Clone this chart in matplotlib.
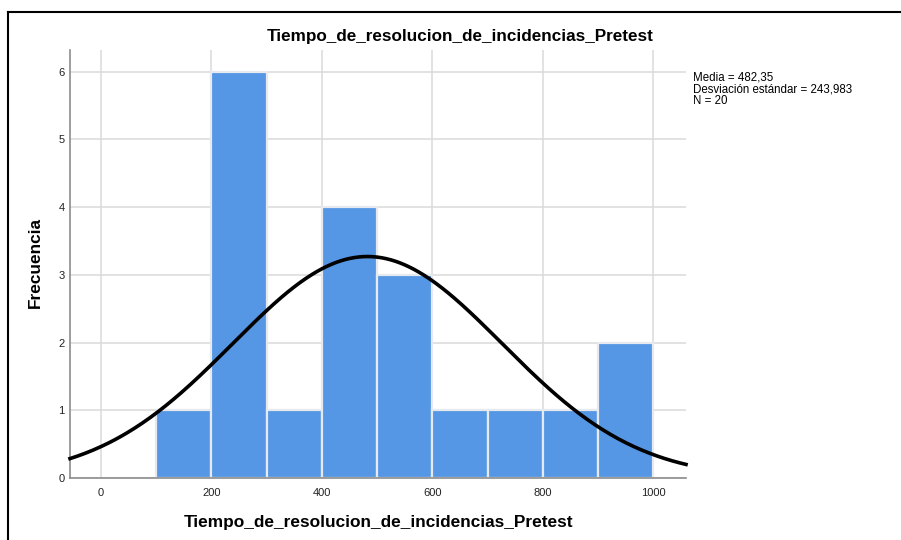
import numpy as np
from matplotlib import pyplot as plt
from matplotlib.lines import Line2D

# Histogram bins (left edges) and frequencies
bin_edges = [100, 200, 300, 400, 500, 600, 700, 800, 900, 1000]
counts = [1, 6, 1, 4, 3, 1, 1, 1, 2]
media = 482.35
desv = 243.983
n = 20
x_ticks = [0, 200, 400, 600, 800, 1000]
y_ticks = [0, 1, 2, 3, 4, 5, 6]

plt.rcParams['font.family'] = ['Liberation Sans', 'DejaVu Sans']

fig = plt.figure(figsize=(9.01, 5.40), dpi=100)
ax = fig.add_axes([70 / 901, 1 - 478 / 540, 616 / 901, 428 / 540])

# Bars
widths = np.diff(bin_edges)
ax.bar(bin_edges[:-1], counts, width=widths, align='edge',
       color='#5596e5', edgecolor='#e6e9ee', linewidth=1.6, zorder=2)

# Normal curve scaled to the histogram
xlim = (-56, 1059)
xs = np.linspace(xlim[0], xlim[1], 400)
bw = widths[0]
ys = n * bw * np.exp(-0.5 * ((xs - media) / desv) ** 2) / (desv * np.sqrt(2 * np.pi))
ax.plot(xs, ys, color='black', linewidth=2.6, zorder=3, clip_on=False)

ax.set_xlim(*xlim)
ax.set_ylim(0, 6.32)
ax.set_xticks(x_ticks)
ax.set_yticks(y_ticks)
ax.grid(True, color='#dadada', linewidth=1.1, zorder=0)
ax.set_axisbelow(True)
ax.tick_params(length=0, labelsize=8, colors='#222222', pad=7)
ax.tick_params(axis='y', pad=4)
for side in ['top', 'right']:
    ax.spines[side].set_visible(False)
for side in ['left', 'bottom']:
    ax.spines[side].set_color('#8c8c8c')
    ax.spines[side].set_linewidth(1.2)

fig.text(460 / 901, 1 - 37 / 540, 'Tiempo_de_resolucion_de_incidencias_Pretest',
         ha='center', va='center', fontsize=12.3, fontweight='bold')
fig.text(378 / 901, 1 - 522 / 540, 'Tiempo_de_resolucion_de_incidencias_Pretest',
         ha='center', va='center', fontsize=12.4, fontweight='bold')
fig.text(35 / 901, 1 - 262 / 540, 'Frecuencia', ha='center', va='center',
         rotation=90, fontsize=12.4, fontweight='bold')

stats = 'Media = {}\nDesviación estándar = {}\nN = {}'.format(
    str(media).replace('.', ','), str(desv).replace('.', ','), n)
fig.text(693 / 901, 1 - 71 / 540, stats, ha='left', va='top',
         fontsize=8.3, linespacing=1.02)

# Outer frame (left and top edges)
fig.add_artist(Line2D([8 / 901, 8 / 901], [0, 1 - 12 / 540], color='black', linewidth=1.5))
fig.add_artist(Line2D([8 / 901, 1], [1 - 12 / 540, 1 - 12 / 540], color='black', linewidth=1.5))

fig.savefig('out.png', dpi=100)
